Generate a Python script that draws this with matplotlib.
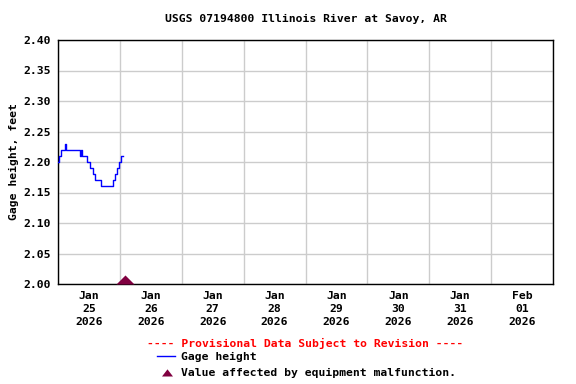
import matplotlib
matplotlib.use("Agg")
import matplotlib.pyplot as plt
import pandas as pd
from matplotlib.lines import Line2D

# Gage height change points (step series, 15-min data)
times = [
    "2026-01-25 00:00", "2026-01-25 00:30", "2026-01-25 01:15", "2026-01-25 02:45",
    "2026-01-25 03:15", "2026-01-25 08:30", "2026-01-25 09:00", "2026-01-25 09:15",
    "2026-01-25 11:15", "2026-01-25 12:30", "2026-01-25 13:30", "2026-01-25 14:15",
    "2026-01-25 16:30", "2026-01-25 21:15", "2026-01-25 22:00", "2026-01-25 22:45",
    "2026-01-25 23:30", "2026-01-26 00:30", "2026-01-26 01:15",
]
gage = [
    2.20, 2.21, 2.22, 2.23,
    2.22, 2.21, 2.22, 2.21,
    2.20, 2.19, 2.18, 2.17,
    2.16, 2.17, 2.18, 2.19,
    2.20, 2.21, 2.21,
]

# Equipment malfunction flag
malf_times = ["2026-01-26 02:00"]
malf_values = [2.00]

day_labels = ["Jan\n25\n2026", "Jan\n26\n2026", "Jan\n27\n2026", "Jan\n28\n2026",
              "Jan\n29\n2026", "Jan\n30\n2026", "Jan\n31\n2026", "Feb\n01\n2026"]
y_ticks = [2.00, 2.05, 2.10, 2.15, 2.20, 2.25, 2.30, 2.35, 2.40]

FONT = "DejaVu Sans Mono"
FS = 8.2
MAROON = "#800040"
# flat triangle sitting on its base
FLAT_TRI = [(-1, 0), (1, 0), (0, 1), (-1, 0)]
LEG_TRI = [(-1, 0), (1, 0), (0, 1.3), (-1, 0)]

t = pd.to_datetime(times)
mt = pd.to_datetime(malf_times)
start = pd.Timestamp("2026-01-25")
end = pd.Timestamp("2026-02-02")

fig = plt.figure(figsize=(5.76, 3.84), dpi=100)
ax = fig.add_axes([58 / 576, 1 - 284 / 384, (553 - 58) / 576, (284 - 40) / 384])

ax.plot(t, gage, color="#0000ff", lw=1, drawstyle="steps-post", zorder=3)
ax.plot(mt, malf_values, ls="none", marker=FLAT_TRI, ms=13, color=MAROON,
        markeredgewidth=0, clip_on=False, zorder=4)

ax.set_xlim(start, end)
ax.set_ylim(2.0, 2.4)

# grid at midnight, labels at noon
midnights = pd.date_range(start, end, freq="D")
noons = pd.date_range(start + pd.Timedelta(hours=12), periods=len(day_labels), freq="D")
ax.set_xticks(midnights, minor=True)
ax.set_xticks(noons)
ax.set_xticklabels(day_labels, fontfamily=FONT, fontweight="bold", fontsize=FS,
                   linespacing=1.35)
ax.grid(True, which="minor", axis="x", color="#cccccc", lw=1)
ax.set_yticks(y_ticks)
ax.set_yticklabels([f"{v:.2f}" for v in y_ticks], fontfamily=FONT,
                   fontweight="bold", fontsize=FS)
ax.grid(True, which="major", axis="y", color="#cccccc", lw=1)
ax.tick_params(axis="both", which="both", length=0, pad=5)
ax.set_axisbelow(True)
for s in ax.spines.values():
    s.set_color("black")
    s.set_linewidth(1)

ax.set_ylabel("Gage height, feet", fontfamily=FONT, fontweight="bold", fontsize=FS,
              labelpad=3)

fig.text(305.5 / 576, 1 - 19 / 384, "USGS 07194800 Illinois River at Savoy, AR",
         ha="center", va="center", fontfamily=FONT, fontweight="bold", fontsize=FS)

fig.text(305.5 / 576, 1 - 343 / 384, "---- Provisional Data Subject to Revision ----",
         ha="center", va="center", color="red", fontfamily=FONT, fontweight="bold",
         fontsize=FS)
fig.add_artist(Line2D([157 / 576, 175 / 576], [1 - 356 / 384] * 2, color="#0000ff",
                      lw=1, transform=fig.transFigure))
fig.text(181 / 576, 1 - 357 / 384, "Gage height", ha="left", va="center",
         fontfamily=FONT, fontweight="bold", fontsize=FS)
fig.add_artist(Line2D([167 / 576], [1 - 376 / 384], ls="none", marker=LEG_TRI,
                      ms=10.3, color=MAROON, markeredgewidth=0,
                      transform=fig.transFigure))
fig.text(181 / 576, 1 - 373 / 384, "Value affected by equipment malfunction.",
         ha="left", va="center", fontfamily=FONT, fontweight="bold", fontsize=FS)

fig.savefig("out.png", dpi=100)
